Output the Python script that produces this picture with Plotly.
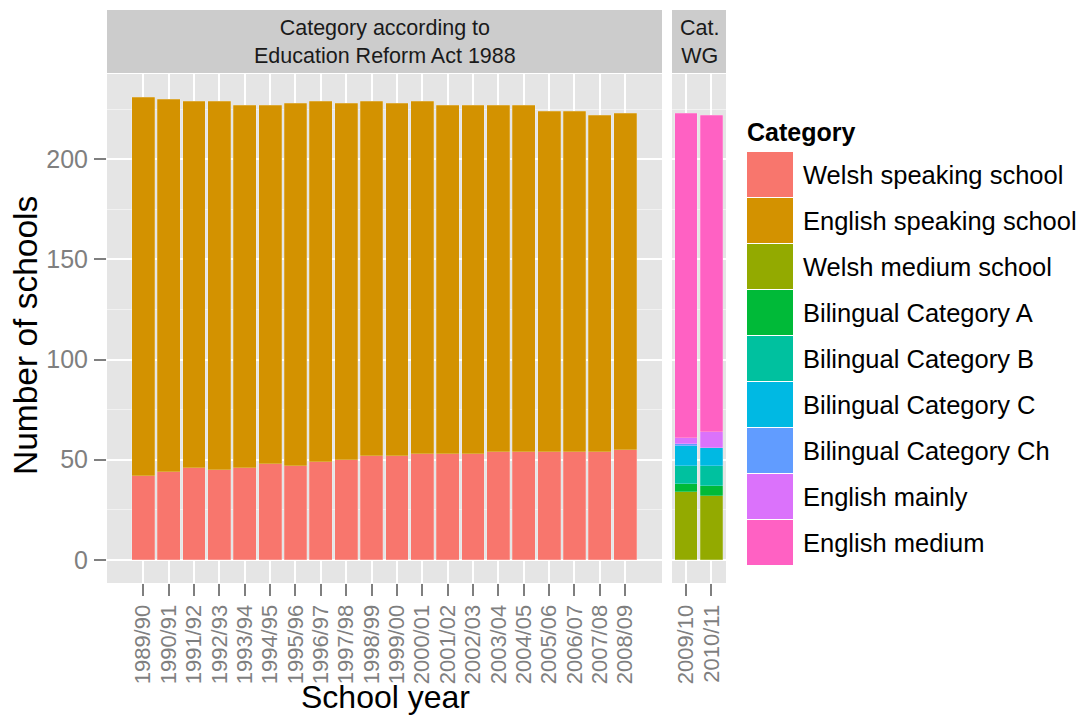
import plotly.graph_objects as go

# ---------------- data ----------------
years_era = ["1989/90", "1990/91", "1991/92", "1992/93", "1993/94", "1994/95",
             "1995/96", "1996/97", "1997/98", "1998/99", "1999/00", "2000/01",
             "2001/02", "2002/03", "2003/04", "2004/05", "2005/06", "2006/07",
             "2007/08", "2008/09"]
welsh_speaking = [42, 44, 46, 45, 46, 48, 47, 49, 50, 52, 52, 53, 53, 53, 54, 54, 54, 54, 54, 55]
english_speaking = [189, 186, 183, 184, 181, 179, 181, 180, 178, 177, 176, 176, 174, 174,
                    173, 173, 170, 170, 168, 168]

years_wg = ["2009/10", "2010/11"]
welsh_medium = [34, 32]
bilingual_a = [4, 5]
bilingual_b = [9, 10]
bilingual_c = [10, 9]
bilingual_ch = [1, 0]
english_mainly = [3, 8]
english_medium = [162, 158]

categories = ["Welsh speaking school", "English speaking school", "Welsh medium school",
              "Bilingual Category A", "Bilingual Category B", "Bilingual Category C",
              "Bilingual Category Ch", "English mainly", "English medium"]
colors = ["#F8766D", "#D39200", "#93AA00", "#00BA38", "#00C19F", "#00B9E3",
          "#619CFF", "#DB72FB", "#FF61C3"]

y_ticks = [0, 50, 100, 150, 200]
facet_labels = ["Category according to<br>Education Reform Act 1988", "Cat.<br>WG"]

# ---------------- layout helpers ----------------
W, H = 1079, 718
FONT = "Liberation Sans, Arial, Helvetica, sans-serif"


def px(x):
    return x / W


def py(y):
    return 1 - y / H


P1 = (107, 662)
P2 = (672, 726)
PY = (74, 583)

fig = go.Figure()

bar_line = dict(color="rgba(255,255,255,0.35)", width=0.6)

era_series = [welsh_speaking, english_speaking]
for i, vals in enumerate(era_series):
    fig.add_trace(go.Bar(x=years_era, y=vals, name=categories[i], marker_color=colors[i],
                         marker_line=bar_line, xaxis="x", yaxis="y", showlegend=False,
                         hoverinfo="x+y+name"))

wg_series = [welsh_medium, bilingual_a, bilingual_b, bilingual_c, bilingual_ch,
             english_mainly, english_medium]
for j, vals in enumerate(wg_series):
    k = j + 2
    fig.add_trace(go.Bar(x=years_wg, y=vals, name=categories[k], marker_color=colors[k],
                         marker_line=bar_line, xaxis="x2", yaxis="y2", showlegend=False,
                         hoverinfo="x+y+name"))

y_range = [-11.55, 242.55]
grey50 = "#7F7F7F"

common_x = dict(type="category", showgrid=True, gridcolor="white", gridwidth=1.6,
                zeroline=False, ticks="outside", ticklen=12, tickwidth=2, tickcolor=grey50,
                tickangle=-90, tickfont=dict(family=FONT, size=22, color=grey50),
                showline=False, tickmode="array")

fig.update_layout(
    width=W, height=H,
    margin=dict(l=0, r=0, t=0, b=0),
    paper_bgcolor="white",
    plot_bgcolor="#E5E5E5",
    barmode="stack",
    bargap=0.1,
    showlegend=False,
    font=dict(family=FONT),
    xaxis=dict(common_x, domain=[px(P1[0]), px(P1[1])], range=[-1.43, 20.45], anchor="y",
               tickvals=years_era, ticktext=years_era),
    xaxis2=dict(common_x, domain=[px(P2[0]), px(P2[1])], range=[-0.56, 1.58], anchor="y2",
                tickvals=years_wg, ticktext=years_wg),
    yaxis=dict(domain=[py(PY[1]), py(PY[0])], range=y_range, tickvals=y_ticks,
               showgrid=True, gridcolor="white", gridwidth=1.6, zeroline=False,
               ticks="outside", ticklen=12, tickwidth=2, tickcolor=grey50,
               ticklabelstandoff=1,
               tickfont=dict(family=FONT, size=25, color=grey50),
               minor=dict(dtick=25, tick0=25, showgrid=True, gridcolor="#F2F2F2",
                          gridwidth=0.8, ticks=""),
               anchor="x"),
    yaxis2=dict(domain=[py(PY[1]), py(PY[0])], range=y_range, tickvals=y_ticks,
                showgrid=True, gridcolor="white", gridwidth=1.6, zeroline=False,
                showticklabels=False, ticks="",
                minor=dict(dtick=25, tick0=25, showgrid=True, gridcolor="#F2F2F2",
                           gridwidth=0.8, ticks=""),
                anchor="x2"),
)

shapes = []
annotations = []

# facet strips
for (x0, x1), label in zip([P1, P2], facet_labels):
    shapes.append(dict(type="rect", xref="paper", yref="paper",
                       x0=px(x0), x1=px(x1), y0=py(73), y1=py(10),
                       fillcolor="#CCCCCC", line=dict(width=0), layer="below"))
    annotations.append(dict(text=label, xref="paper", yref="paper",
                            x=px((x0 + x1) / 2), y=py(42), xanchor="center", yanchor="middle",
                            showarrow=False, align="center",
                            font=dict(family=FONT, size=21.5, color="#1A1A1A")))

# axis titles
annotations.append(dict(text="Number of schools", xref="paper", yref="paper",
                        x=px(25), y=py(336), textangle=-90, showarrow=False,
                        xanchor="center", yanchor="middle",
                        font=dict(family=FONT, size=33.5, color="black")))
annotations.append(dict(text="School year", xref="paper", yref="paper",
                        x=px(385), y=py(697), showarrow=False,
                        xanchor="center", yanchor="middle",
                        font=dict(family=FONT, size=32, color="black")))

# legend (drawn manually to mimic large ggplot keys)
annotations.append(dict(text="<b>Category</b>", xref="paper", yref="paper",
                        x=px(745), y=py(132), showarrow=False,
                        xanchor="left", yanchor="middle",
                        font=dict(family=FONT, size=25, color="black")))
key_top, key_h, key_left, key_w = 152, 46, 747, 46
for i, (name, col) in enumerate(zip(categories, colors)):
    top = key_top + key_h * i
    shapes.append(dict(type="rect", xref="paper", yref="paper",
                       x0=px(key_left), x1=px(key_left + key_w),
                       y0=py(top + key_h - 1), y1=py(top),
                       fillcolor=col, line=dict(width=0)))
    annotations.append(dict(text=name, xref="paper", yref="paper",
                            x=px(801), y=py(top + key_h / 2), showarrow=False,
                            xanchor="left", yanchor="middle",
                            font=dict(family=FONT, size=25.5, color="black")))

fig.update_layout(shapes=shapes, annotations=annotations)

fig.write_html("out.html", post_script="document.body.style.margin='0';",
               config={"displayModeBar": False})
